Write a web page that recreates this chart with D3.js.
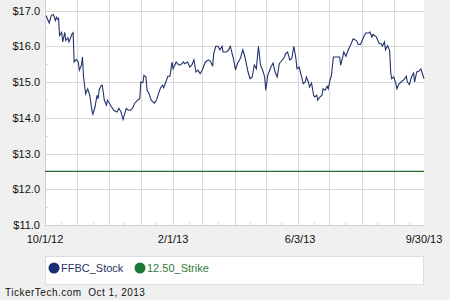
<!DOCTYPE html>
<html>
<head>
<meta charset="utf-8">
<script src="https://cdn.jsdelivr.net/npm/d3@7"></script>
<style>
  body { margin: 0; background: #f0f0f0; }
  svg { display: block; font-family: "Liberation Sans", Arial, sans-serif; }
</style>
</head>
<body>
<div id="chart"></div>
<script>
// days after 10/1/12 and closing prices
const dayOffsets = [1,4,6,8,10,11,12,13,14,16,17,19,20,22,23,26,27,28,30,32,33,35,36,37,39,41,43,45,46,48,
  50,51,52,54,55,57,59,60,62,63,66,69,71,73,75,78,80,82,84,86,89,91,92,94,95,97,98,100,102,105,
  107,109,111,113,114,116,118,120,122,123,126,128,130,133,134,137,139,141,143,145,147,149,151,154,157,159,161,162,164,166,
  168,170,171,174,176,178,181,183,185,187,188,190,192,194,195,197,199,201,203,205,207,209,211,212,214,217,219,221,223,225,
  227,230,231,233,235,237,239,241,242,244,247,248,250,251,253,254,256,258,259,261,262,264,266,267,269,271,272,274,275,277,
  280,283,284,286,287,289,291,294,296,299,301,303,306,308,311,312,314,315,318,319,321,323,324,326,327,329,331,332,333,335,
  337,338,340,342,345,347,348,350,352,354,355,357,359,361,362,364];
const stockPrices = [16.86,16.65,16.86,16.89,16.72,16.81,16.76,16.78,16.30,16.39,16.12,16.39,16.16,16.24,16.12,16.35,16.38,15.56,15.63,15.56,15.33,15.47,15.70,15.14,14.67,14.81,14.63,14.21,14.10,14.30,
  14.63,14.53,14.77,14.91,14.91,14.49,14.35,14.49,14.40,14.35,14.21,14.16,14.26,14.16,13.95,14.26,14.21,14.21,14.26,14.40,14.49,14.53,15.00,14.98,15.19,15.14,14.77,14.67,14.49,14.41,
  14.49,14.67,14.84,14.91,14.84,15.00,15.16,15.16,15.56,15.37,15.56,15.49,15.47,15.56,15.51,15.56,15.42,15.47,15.62,15.28,15.33,15.23,15.33,15.56,15.62,15.58,15.44,15.79,16.00,16.00,
  15.90,16.00,15.84,15.84,15.88,16.00,15.65,15.34,15.53,15.62,15.70,15.90,15.70,15.42,15.28,15.09,15.14,15.47,15.37,16.00,15.47,15.33,15.14,14.77,15.19,15.42,15.53,15.28,15.14,15.51,
  15.58,15.70,15.79,15.84,15.62,15.65,16.00,15.65,15.37,15.42,15.09,14.95,15.00,15.14,15.00,14.86,14.97,14.63,14.58,14.63,14.49,14.58,14.63,14.81,14.77,14.88,14.81,15.09,15.16,15.70,
  15.70,15.70,15.47,15.70,15.84,15.72,15.88,16.07,16.21,16.16,16.05,16.05,16.26,16.37,16.37,16.40,16.26,16.33,16.27,16.21,16.07,16.07,16.00,16.12,15.90,16.02,15.88,15.28,15.09,15.14,
  14.95,14.81,14.95,15.00,15.07,15.16,15.00,14.93,15.14,15.25,15.00,15.28,15.30,15.37,15.28,15.09];
const strikePrice = 12.50;
const yTicks = [11, 12, 13, 14, 15, 16, 17];
const xLabels = ["10/1/12", "2/1/13", "6/3/13", "9/30/13"];
const seriesNames = ["FFBC_Stock", "12.50_Strike"];
const footer = "TickerTech.com  Oct 1, 2013";

const width = 450, height = 300;
const margin = { left: 45, right: 26, top: 0, bottom: 75 };
const parse = d3.timeParse("%m/%d/%y");
const startDate = parse("10/01/12");
const endDate = parse("09/30/13");

const data = dayOffsets.map((d, i) => ({ date: d3.timeDay.offset(startDate, d), value: stockPrices[i] }));

const xScale = d3.scaleTime().domain([startDate, endDate]).range([margin.left, width - margin.right]);
const yScale = d3.scaleLinear().domain([11, 17]).range([225, 10.5]);

const svg = d3.select("#chart").append("svg")
  .attr("width", width).attr("height", height);

svg.append("rect").attr("width", width).attr("height", height).attr("fill", "#f0f0f0");

// plot area
svg.append("rect")
  .attr("x", margin.left).attr("y", 0)
  .attr("width", xScale.range()[1] - margin.left)
  .attr("height", yScale(11))
  .attr("fill", "#ffffff");

// gridlines
const monthTicks = d3.timeMonth.range(d3.timeMonth.offset(startDate, 1), endDate);
svg.append("g").selectAll("line")
  .data(monthTicks)
  .join("line")
  .attr("x1", d => Math.round(xScale(d)) + 0.5).attr("x2", d => Math.round(xScale(d)) + 0.5)
  .attr("y1", 0).attr("y2", yScale(11))
  .attr("stroke", "#d8d8d8");

svg.append("g").selectAll("line")
  .data(yTicks.slice(1))
  .join("line")
  .attr("x1", margin.left).attr("x2", xScale.range()[1])
  .attr("y1", d => Math.round(yScale(d)) + 0.5).attr("y2", d => Math.round(yScale(d)) + 0.5)
  .attr("stroke", "#d8d8d8");

// minor ticks
const halfMonths = d3.timeMonth.range(startDate, endDate).map(d => d3.timeDay.offset(d, 15));
svg.append("g").selectAll("line")
  .data(halfMonths)
  .join("line")
  .attr("x1", d => Math.round(xScale(d)) + 0.5).attr("x2", d => Math.round(xScale(d)) + 0.5)
  .attr("y1", yScale(11) - 3).attr("y2", yScale(11))
  .attr("stroke", "#d8d8d8");

svg.append("g").selectAll("line")
  .data(yTicks.slice(0, -1).map(d => d + 0.5))
  .join("line")
  .attr("x1", margin.left).attr("x2", margin.left + 3)
  .attr("y1", d => Math.round(yScale(d)) + 0.5).attr("y2", d => Math.round(yScale(d)) + 0.5)
  .attr("stroke", "#d8d8d8");

// plot border
svg.append("line")
  .attr("x1", margin.left + 0.5).attr("x2", margin.left + 0.5)
  .attr("y1", 0).attr("y2", yScale(11))
  .attr("stroke", "#d0d0d0");
svg.append("line")
  .attr("x1", margin.left).attr("x2", xScale.range()[1])
  .attr("y1", Math.round(yScale(11)) + 0.5).attr("y2", Math.round(yScale(11)) + 0.5)
  .attr("stroke", "#d0d0d0");

// strike line
svg.append("line")
  .attr("x1", margin.left).attr("x2", xScale.range()[1])
  .attr("y1", yScale(strikePrice)).attr("y2", yScale(strikePrice))
  .attr("stroke", "#2a6a2a").attr("stroke-width", 1.2);

// stock line
const line = d3.line().x(d => xScale(d.date)).y(d => yScale(d.value));
svg.append("path")
  .datum(data)
  .attr("d", line)
  .attr("fill", "none")
  .attr("stroke", "#22326e")
  .attr("stroke-width", 1.1);

// y labels
svg.append("g").selectAll("text")
  .data(yTicks)
  .join("text")
  .text(d => "$" + d.toFixed(1))
  .attr("x", 40)
  .attr("y", d => yScale(d) + 4)
  .attr("text-anchor", "end")
  .attr("font-size", 11)
  .attr("fill", "#111");

// x labels
const xLabelDates = xLabels.map(s => d3.timeParse("%m/%d/%y")(s.replace(/^(\d+)\/(\d+)\//, (m, a, b) => a.padStart(2, "0") + "/" + b.padStart(2, "0") + "/")));
svg.append("g").selectAll("text")
  .data(xLabels)
  .join("text")
  .text(d => d)
  .attr("x", (d, i) => xScale(xLabelDates[i]))
  .attr("y", 243)
  .attr("text-anchor", "middle")
  .attr("font-size", 11)
  .attr("fill", "#111");

// legend
svg.append("rect")
  .attr("x", margin.left + 0.5).attr("y", 256.5)
  .attr("width", xScale.range()[1] - margin.left - 1).attr("height", 28)
  .attr("fill", "#ffffff").attr("stroke", "#dddddd");

const legendColors = ["#1b2f78", "#1d7a34"];
const legendText = ["#2a3565", "#2f7a3a"];
const legendX = [54, 140];
const legend = svg.append("g").selectAll("g")
  .data(seriesNames)
  .join("g")
  .attr("transform", (d, i) => `translate(${legendX[i]},268)`);
legend.append("circle").attr("r", 5.5).attr("fill", (d, i) => legendColors[i]);
legend.append("text")
  .text(d => d)
  .attr("x", 7).attr("y", 4)
  .attr("font-size", 11)
  .attr("fill", (d, i) => legendText[i]);

// footer
svg.append("text")
  .text(footer)
  .attr("x", 5).attr("y", 296)
  .attr("font-size", 10)
  .attr("letter-spacing", 0.5)
  .style("white-space", "pre")
  .attr("fill", "#111");
</script>
</body>
</html>
